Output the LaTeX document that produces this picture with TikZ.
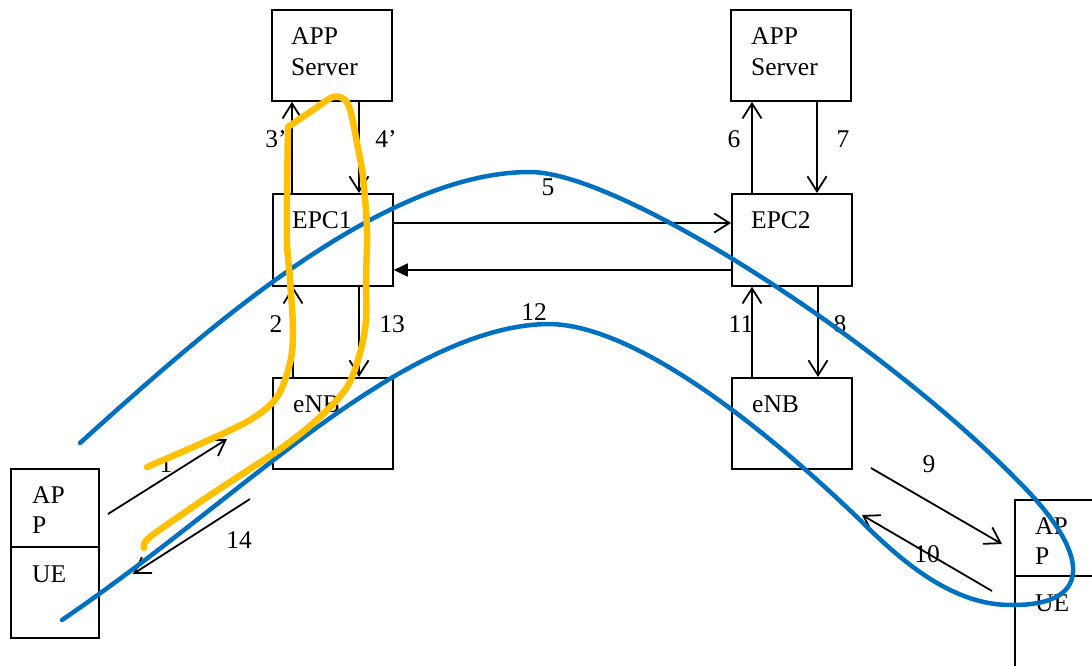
\documentclass[tikz,border=0pt]{standalone}
\usepackage{fontspec}
\setmainfont{Liberation Serif}
\usetikzlibrary{arrows.meta}
\definecolor{pathblue}{RGB}{0,112,192}
\definecolor{pathgold}{RGB}{255,192,0}
\begin{document}
\begin{tikzpicture}[x=1pt,y=-1pt,
  font=\fontsize{25.5}{30.5}\selectfont,
  box/.style={draw, line width=1.8pt, inner sep=0pt, anchor=north west,
    minimum width=120pt, minimum height=91pt},
  uebox/.style={draw, line width=1.8pt, inner sep=0pt, anchor=north west,
    minimum width=88pt},
  boxtext/.style={anchor=base west, inner sep=0pt},
  num/.style={anchor=base, inner sep=0pt},
  msg/.style={line width=1.8pt, -{Straight Barb[length=15pt,width=19pt]}},
  reply/.style={line width=1.8pt, -{Triangle[length=14pt,width=13pt]}},
  trace/.style={line width=4.5pt, pathblue, line cap=round, line join=round},
  hand/.style={line width=6.5pt, pathgold, line cap=round, line join=round}]
\useasboundingbox (0,0) rectangle (1092,666);
\clip (0,0) rectangle (1092,666);

% ---- network elements ----
\node[box] (srv1) at (271,9) {};
\node[box] (srv2) at (730,9) {};
\node[box, minimum height=92pt] (epc1) at (272,193) {};
\node[box, minimum height=92pt] (epc2) at (731,193) {};
\node[box] (enb1) at (272,377) {};
\node[box] (enb2) at (731,377) {};
\node[uebox, minimum height=78pt] (app1) at (10,468) {};
\node[uebox, minimum height=91pt] (ue1) at (10,546) {};
\node[uebox, minimum width=140pt, minimum height=76pt] (app2) at (1014,499) {};
\node[uebox, minimum width=140pt, minimum height=120pt] (ue2) at (1014,575) {};

% ---- box captions ----
\node[boxtext] at ([shift={(20,36)}]srv1.north west)
  {\begin{tabular}[t]{@{}l@{}}APP\\Server\end{tabular}};
\node[boxtext] at ([shift={(21,36)}]srv2.north west)
  {\begin{tabular}[t]{@{}l@{}}APP\\Server\end{tabular}};
\node[boxtext] at ([shift={(20,35)}]epc1.north west) {EPC1};
\node[boxtext] at ([shift={(20,35)}]epc2.north west) {EPC2};
\node[boxtext] at ([shift={(21,35)}]enb1.north west) {eNB};
\node[boxtext] at ([shift={(21,35)}]enb2.north west) {eNB};
\node[boxtext] at ([shift={(22,35)}]app1.north west)
  {\begin{tabular}[t]{@{}l@{}}AP\\P\end{tabular}};
\node[boxtext] at ([shift={(22,36)}]ue1.north west) {UE};
\node[boxtext] at ([shift={(21,35)}]app2.north west)
  {\begin{tabular}[t]{@{}l@{}}AP\\P\end{tabular}};
\node[boxtext] at ([shift={(21,36)}]ue2.north west) {UE};

% ---- vertical signalling ----
\draw[msg] ([xshift=20pt]epc1.north west) -- ([xshift=21pt]srv1.south west);
\draw[msg] ([xshift=88pt]srv1.south west) -- ([xshift=87pt]epc1.north west);
\draw[msg] ([xshift=21pt]enb1.north west) -- ([xshift=21pt]epc1.south west);
\draw[msg] ([xshift=87pt]epc1.south west) -- ([xshift=87pt]enb1.north west);
\draw[msg] ([xshift=21pt]epc2.north west) -- ([xshift=22pt]srv2.south west);
\draw[msg] ([xshift=87pt]srv2.south west) -- ([xshift=86pt]epc2.north west);
\draw[msg] ([xshift=21pt]enb2.north west) -- ([xshift=21pt]epc2.south west);
\draw[msg] ([xshift=87pt]epc2.south west) -- ([xshift=87pt]enb2.north west);

% ---- core-to-core links ----
\draw[msg] ([yshift=-30pt]epc1.north east) -- ([yshift=-30pt]epc2.north west);
\draw[reply] ([yshift=-77pt]epc2.north west) -- ([yshift=-77pt]epc1.north east);

% ---- radio legs ----
\coordinate (r1s) at (108,514);  \coordinate (r1e) at (227,439);
\coordinate (r14s) at (250,499); \coordinate (r14e) at (133,574);
\coordinate (r9s) at (871,468);  \coordinate (r9e) at (1002,544);
\coordinate (r10s) at (992,591); \coordinate (r10e) at (862,515);
\draw[msg] (r1s) -- (r1e);
\draw[msg] (r14s) -- (r14e);
\draw[msg] (r9s) -- (r9e);
\draw[msg] (r10s) -- (r10e);

% ---- step numbers ----
\node[num] at (276,147) {3’};
\node[num] at (386,147) {4’};
\node[num] at (734,147) {6};
\node[num] at (843,147) {7};
\node[num] at (548,195) {5};
\node[num] at (534,320) {12};
\node[num] at (276,332) {2};
\node[num] at (392,332) {13};
\node[num] at (741,332) {11};
\node[num] at (840,332) {8};
\node[num] at (166,472) {1};
\node[num] at (239,548) {14};
\node[num] at (929,472) {9};
\node[num] at (927,562) {10};

% ---- end-to-end route via EPC2 ----
\draw[trace] (80,443) .. controls (200,335) and (380,172) .. (530,172)
  .. controls (620,172) and (880,340) .. (1017,480)
  .. controls (1090,552) and (1095,605) .. (1013,605)
  .. controls (955,606) and (905,565) .. (860,520)
  .. controls (800,462) and (650,326) .. (550,324)
  .. controls (470,324) and (380,380) .. (300,440)
  .. controls (220,500) and (150,560) .. (62,620);

% ---- local route via EPC1 ----
\draw[hand] plot[smooth, tension=0.55] coordinates {
  (147,467) (200,444) (250,420) (277,397) (290,363) (293,330) (290,280)
  (287,243) (287,197) (288,127)};
\draw[hand] plot[smooth, tension=0.55] coordinates {
  (288,127) (313,110) (333,97) (345,100) (351,113) (357,143) (363,177)
  (367,230) (366,280) (366,320) (360,353) (347,387) (320,417) (283,447)
  (233,480) (200,502) (150,537) (144,548)};
\end{tikzpicture}
\end{document}
